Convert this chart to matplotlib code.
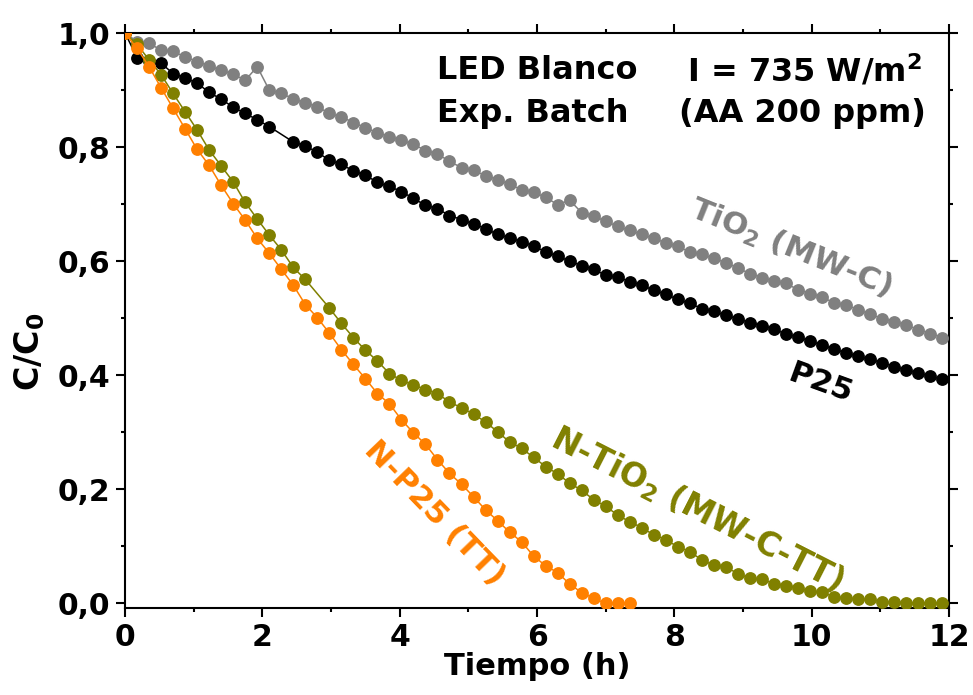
import numpy as np
import matplotlib
matplotlib.use("Agg")
import matplotlib.pyplot as plt
from matplotlib.ticker import MultipleLocator, FuncFormatter

plt.rcParams['font.family'] = ['DejaVu Sans']
plt.rcParams['font.weight'] = 'bold'
plt.rcParams['mathtext.fontset'] = 'custom'
plt.rcParams['mathtext.rm'] = 'DejaVu Sans:bold'
plt.rcParams['mathtext.bf'] = 'DejaVu Sans:bold'
plt.rcParams['mathtext.it'] = 'DejaVu Sans:bold'
plt.rcParams['mathtext.default'] = 'bf'

# sampling times (h)
tiempo = [0.000, 0.175, 0.350, 0.525, 0.700, 0.875, 1.050, 1.225, 1.400, 1.575,
          1.750, 1.925, 2.100, 2.275, 2.450, 2.625, 2.800, 2.975, 3.150, 3.325,
          3.500, 3.675, 3.850, 4.025, 4.200, 4.375, 4.550, 4.725, 4.900, 5.075,
          5.250, 5.425, 5.600, 5.775, 5.950, 6.125, 6.300, 6.475, 6.650, 6.825,
          7.000, 7.175, 7.350, 7.525, 7.700, 7.875, 8.050, 8.225, 8.400, 8.575,
          8.750, 8.925, 9.100, 9.275, 9.450, 9.625, 9.800, 9.975, 10.150, 10.325,
          10.500, 10.675, 10.850, 11.025, 11.200, 11.375, 11.550, 11.725, 11.900]

# C/C0 for each catalyst (None = no measurement)
tio2_mwc = [1.000, 0.985, 0.982, 0.970, 0.968, 0.958, 0.950, 0.942, 0.935, 0.928,
            0.917, 0.941, 0.900, 0.894, 0.885, 0.877, 0.871, 0.859, 0.853, 0.843,
            0.834, 0.825, 0.818, 0.812, 0.805, 0.794, 0.788, 0.775, 0.764, 0.759,
            0.750, 0.743, 0.735, 0.725, 0.721, 0.712, 0.699, 0.707, 0.685, 0.679,
            0.670, 0.661, 0.654, 0.647, 0.640, 0.632, 0.626, 0.616, 0.612, 0.605,
            0.597, 0.588, 0.578, 0.571, 0.565, 0.561, 0.550, 0.543, 0.537, 0.527,
            0.523, 0.515, 0.507, 0.499, 0.494, 0.488, 0.480, 0.473, 0.466]

p25 = [1.000, 0.957, 0.951, 0.947, 0.929, 0.921, 0.912, 0.896, 0.884, 0.870,
       0.859, 0.848, 0.836, None, 0.809, 0.802, 0.791, 0.777, 0.770, 0.758,
       0.751, 0.738, 0.731, 0.722, 0.710, 0.698, 0.692, 0.680, 0.673, 0.665,
       0.657, 0.647, 0.641, 0.634, 0.627, 0.616, 0.609, 0.600, 0.592, 0.586,
       0.575, 0.572, 0.564, 0.558, 0.549, 0.542, 0.533, 0.526, 0.517, 0.512,
       0.505, 0.499, 0.492, 0.487, 0.481, 0.472, 0.467, 0.460, 0.453, 0.446,
       0.439, 0.433, 0.428, 0.422, 0.415, 0.409, 0.404, 0.398, 0.393]

n_tio2_mwc_tt = [1.000, 0.980, 0.953, 0.927, 0.894, 0.862, 0.830, 0.795, 0.767, 0.739,
                 0.703, 0.674, 0.646, 0.620, 0.589, 0.568, None, 0.518, 0.491, 0.466,
                 0.444, 0.425, 0.403, 0.391, 0.383, 0.375, 0.368, 0.353, 0.343, 0.332,
                 0.318, 0.301, 0.283, 0.272, 0.256, 0.240, 0.227, 0.211, 0.198, 0.182,
                 0.170, 0.155, 0.143, 0.133, 0.120, 0.112, 0.099, 0.091, 0.076, 0.067,
                 0.064, 0.052, 0.044, 0.043, 0.034, 0.031, 0.027, 0.021, 0.020, 0.011,
                 0.010, 0.007, 0.007, 0.003, 0.003, 0.001, 0.001, 0.001, 0.001]

n_p25_tt = [1.000, 0.973, 0.941, 0.904, 0.868, 0.832, 0.796, 0.768, 0.733, 0.701,
            0.672, 0.640, 0.614, 0.586, 0.558, 0.524, 0.501, 0.474, 0.445, 0.419,
            0.394, 0.368, 0.350, 0.322, 0.299, 0.279, 0.252, 0.228, 0.209, 0.187,
            0.164, 0.145, 0.125, 0.108, 0.083, 0.066, 0.054, 0.034, 0.019, 0.009,
            0.000, 0.000, 0.000]

series = [
    (tio2_mwc, '#808080'),
    (p25, '#000000'),
    (n_tio2_mwc_tt, '#808000'),
    (n_p25_tt, '#FF8000'),
]

fig = plt.figure(figsize=(9.73, 6.95), dpi=100)
ax = fig.add_axes([0.1285, 0.1252, 0.8469, 0.8273])

t_all = np.array(tiempo, dtype=float)
for vals, col in series:
    y = np.array([np.nan if v is None else v for v in vals], dtype=float)
    t = t_all[:len(y)]
    ok = ~np.isnan(y)
    ax.plot(t[ok], y[ok], '-', color=col, lw=1.1, marker='o', ms=8.2,
            mec=col, mfc=col, zorder=3)

ax.set_xlim(0, 12)
ax.set_ylim(-0.008, 1.0)
ax.xaxis.set_major_locator(MultipleLocator(2))
ax.xaxis.set_minor_locator(MultipleLocator(1))
ax.yaxis.set_major_locator(MultipleLocator(0.2))
ax.yaxis.set_minor_locator(MultipleLocator(0.1))
ax.yaxis.set_major_formatter(FuncFormatter(lambda v, p: f"{v:.1f}".replace('.', ',')))
ax.xaxis.set_major_formatter(FuncFormatter(lambda v, p: f"{v:.0f}"))

for s in ax.spines.values():
    s.set_linewidth(1.5)
ax.tick_params(which='both', direction='out', top=True, right=True,
               labeltop=False, labelright=False, width=1.5, labelsize=21.5)
ax.tick_params(which='major', length=6.5, pad=4)
ax.tick_params(which='minor', length=3)

ax.set_xlabel('Tiempo (h)', fontsize=22, fontweight='bold', labelpad=0)
fig.text(30 / 973, 1 - 352 / 695, 'C/C$_0$', rotation=90, ha='center', va='center',
         fontsize=24, fontweight='bold')

ax.text(4.54, 0.934, 'LED Blanco', fontsize=23, fontweight='bold', ha='left', va='center')
ax.text(4.54, 0.859, 'Exp. Batch', fontsize=23, fontweight='bold', ha='left', va='center')
ax.text(8.19, 0.934, 'I = 735 W/m$^2$', fontsize=23, fontweight='bold', ha='left', va='center')
ax.text(8.07, 0.859, '(AA 200 ppm)', fontsize=23, fontweight='bold', ha='left', va='center')

ax.text(9.69, 0.622, 'TiO$_2$ (MW-C)', color='#808080', fontsize=22.5, fontweight='bold',
        rotation=-22, ha='center', va='center', rotation_mode='anchor')
ax.text(10.12, 0.386, 'P25', color='#000000', fontsize=22.5, fontweight='bold',
        rotation=-20, ha='center', va='center', rotation_mode='anchor')
ax.text(8.33, 0.165, 'N-TiO$_2$ (MW-C-TT)', color='#808000', fontsize=23.5, fontweight='bold',
        rotation=-27, ha='center', va='center', rotation_mode='anchor')
ax.text(4.50, 0.158, 'N-P25 (TT)', color='#FF8000', fontsize=22.5, fontweight='bold',
        rotation=-46, ha='center', va='center', rotation_mode='anchor')

fig.savefig('out.png', dpi=100)
